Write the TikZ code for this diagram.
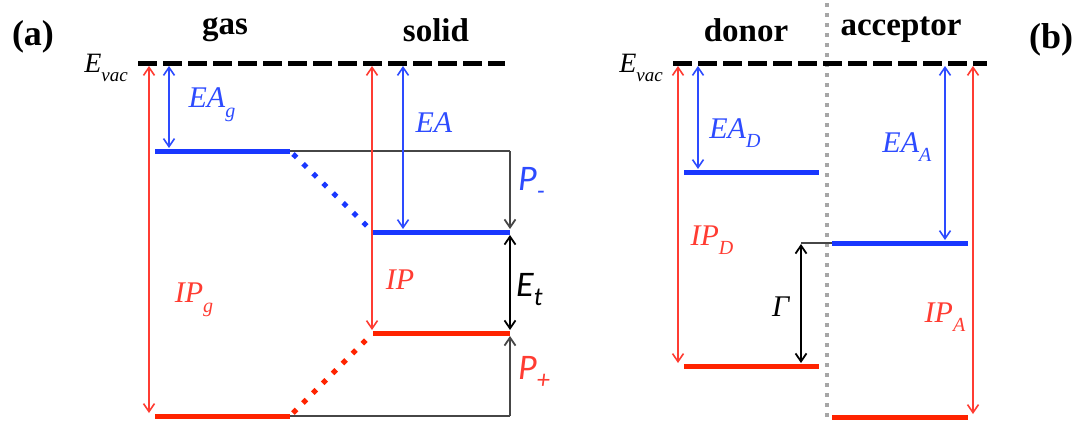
\documentclass[tikz,border=0pt]{standalone}
\usepackage{fontspec}
\setmainfont{Liberation Serif}
\newfontfamily\calib{Carlito}
\usepackage{tikz}
\usetikzlibrary{arrows.meta, positioning, calc}
\definecolor{lvlblue}{RGB}{25,55,255}
\definecolor{lvlred}{RGB}{255,35,0}
\definecolor{txtblue}{RGB}{45,75,255}
\definecolor{txtred}{RGB}{255,60,50}
\definecolor{connblack}{RGB}{70,70,70}

\newcommand{\lvsub}[2]{\textit{#1}\raisebox{-0.32em}{\fontsize{20}{20}\selectfont\textit{#2}}}
\newcommand{\evac}{\textit{E}\raisebox{-0.3em}{\fontsize{19}{19}\selectfont\textit{vac}}}
\newcommand{\sfsub}[2]{{\calib\itshape #1\raisebox{-0.25em}{\fontsize{26}{26}\selectfont #2}}}

\begin{document}
\begin{tikzpicture}[x=1pt, y=-1pt,
    titlenode/.style={font=\fontsize{33}{36}\selectfont\bfseries, inner sep=0pt},
    panelnode/.style={font=\fontsize{36}{40}\selectfont\bfseries, inner sep=0pt},
    lab/.style={font=\fontsize{30}{32}\selectfont, inner sep=0pt},
    sflab/.style={font=\fontsize{36}{38}\selectfont, inner sep=0pt},
    vacnode/.style={font=\fontsize{28}{30}\selectfont, inner sep=0pt},
    vacline/.style={line width=5pt, dash pattern=on 19pt off 6pt},
    blevel/.style={lvlblue, line width=5pt},
    rlevel/.style={lvlred, line width=5pt},
    relaxdots/.style={line width=5pt, dash pattern=on 5pt off 9pt},
    sepline/.style={black!35, line width=4pt, dash pattern=on 4pt off 6pt},
    tip/.tip={Straight Barb[length=8pt, width=11pt]},
    rarr/.style={txtred, line width=1.6pt, tip-tip, shorten <=3pt, shorten >=3pt},
    barr/.style={txtblue, line width=1.6pt, tip-tip, shorten <=3pt, shorten >=3pt},
    karr/.style={connblack, line width=1.8pt, -tip, shorten >=3pt},
    kdarr/.style={black, line width=1.8pt, tip-tip, shorten <=3pt, shorten >=3pt},
    conn/.style={connblack, line width=1.8pt}
]
    \useasboundingbox (0,0) rectangle (1079,423);

    % (a) gas -> solid
    \coordinate (vacA0) at (138,63);
    \coordinate (vacA1) at (505,63);
    \coordinate (gasB0) at (155,151);
    \coordinate (gasB1) at (290,151);
    \coordinate (solB0) at (373,232);
    \coordinate (solB1) at (510,232);
    \coordinate (solR0) at (373,333);
    \coordinate (solR1) at (510,333);
    \coordinate (gasR0) at (155,416);
    \coordinate (gasR1) at (290,416);

    \node (pa) [panelnode] at (33,37) {(a)};
    \node (gas) [titlenode] at (225,30) {gas};
    \node (solid) [titlenode] at (436,30) {solid};
    \node (evacA) [vacnode, left=10pt of vacA0, yshift=-5pt] {\evac};

    \draw [vacline] (vacA0) -- (vacA1);

    % connectors
    \draw [conn] (gasB1) -- (gasB1 -| solB1);
    \draw [karr] (gasB1 -| solB1) -- (solB1);
    \draw [kdarr] (solB1) -- (solR1);
    \draw [conn] (gasR1) -- (gasR1 -| solR1);
    \draw [karr] (gasR1 -| solR1) -- (solR1);
    \draw [rarr] (149,0 |- vacA0) -- (149,0 |- gasR0);
    \draw [barr] (169,0 |- vacA0) -- (169,0 |- gasB0);
    \draw [rarr] (372,0 |- vacA0) -- (372,0 |- solR0);
    \draw [barr] (403,0 |- vacA0) -- (403,0 |- solB0);

    % levels
    \draw [relaxdots, lvlblue] ($(gasB1)+(3,3)$) -- ($(solB0)+(-3,-3)$);
    \draw [relaxdots, lvlred] ($(gasR1)+(3,-3)$) -- ($(solR0)+(-3,3)$);
    \draw [blevel] (gasB0) -- (gasB1);
    \draw [blevel] (solB0) -- (solB1);
    \draw [rlevel] (solR0) -- (solR1);
    \draw [rlevel] (gasR0) -- (gasR1);

    \node (eag) [lab, txtblue] at (212,105) {\lvsub{EA}{g}};
    \node (ea) [lab, txtblue] at (434,123) {\textit{EA}};
    \node (ip) [lab, txtred] at (400,280) {\textit{IP}};
    \node (ipg) [lab, txtred] at (194,300) {\lvsub{IP}{g}};
    \node (pminus) [sflab, txtblue, anchor=west] at (518,183) {\sfsub{P}{-}};
    \node (et) [sflab, black, anchor=west] at (516,290) {\sfsub{E}{t}};
    \node (pplus) [sflab, txtred, anchor=west] at (518,372) {\sfsub{P}{+}};

    % (b) donor / acceptor
    \coordinate (vacB0) at (673,63);
    \coordinate (vacB1) at (987,63);
    \coordinate (sepTop) at (827,3);
    \coordinate (sepBot) at (827,423);
    \coordinate (donB0) at (684,172);
    \coordinate (donB1) at (819,172);
    \coordinate (donR0) at (684,366);
    \coordinate (donR1) at (819,366);
    \coordinate (accB0) at (832,243);
    \coordinate (accB1) at (968,243);
    \coordinate (accR0) at (832,417);
    \coordinate (accR1) at (968,417);
    \coordinate (gamTop) at (801,243);

    \node (pb) [panelnode] at (1051,40) {(b)};
    \node (donor) [titlenode] at (746,30) {donor};
    \node (acceptor) [titlenode] at (901,30) {acceptor};
    \node (evacB) [vacnode, left=10pt of vacB0, yshift=-5pt] {\evac};

    \draw [sepline] (sepTop) -- (sepBot);
    \draw [vacline] (vacB0) -- (vacB1);

    \draw [conn] (accB0) -- (gamTop);
    \draw [kdarr, shorten <=1pt] (gamTop) -- (801,0 |- donR0);
    \draw [rarr] (678,0 |- vacB0) -- (678,0 |- donR0);
    \draw [barr] (698,0 |- vacB0) -- (698,0 |- donB0);
    \draw [barr] (945,0 |- vacB0) -- (945,0 |- accB0);
    \draw [rarr] (973,0 |- vacB0) -- (973,0 |- accR0);

    \draw [blevel] (donB0) -- (donB1);
    \draw [rlevel] (donR0) -- (donR1);
    \draw [blevel] (accB0) -- (accB1);
    \draw [rlevel] (accR0) -- (accR1);

    \node (ead) [lab, txtblue] at (735,133) {\lvsub{EA}{D}};
    \node (eaa) [lab, txtblue] at (907,147) {\lvsub{EA}{A}};
    \node (ipd) [lab, txtred] at (712,240) {\lvsub{IP}{D}};
    \node (ipa) [lab, txtred] at (945,317) {\lvsub{IP}{A}};
    \node (gamma) [lab, black] at (781,307) {\textit{Γ}};
\end{tikzpicture}
\end{document}
